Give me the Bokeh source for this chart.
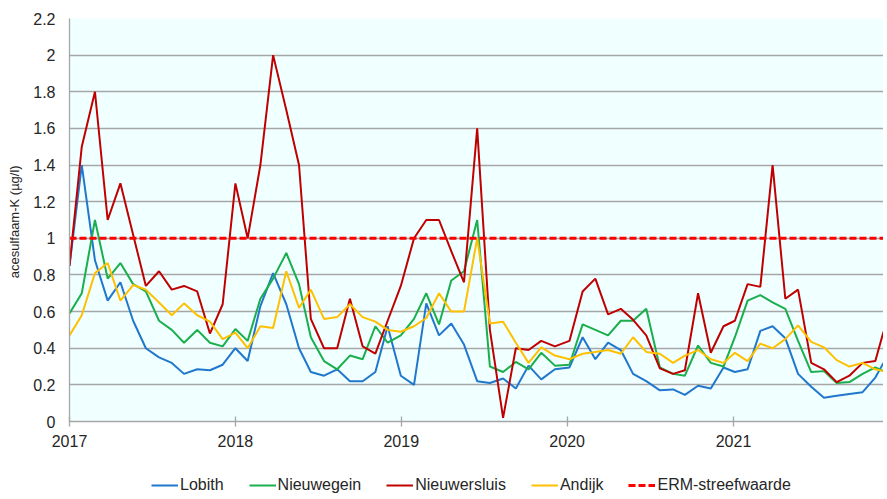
import pandas as pd
from bokeh.plotting import figure
from bokeh.layouts import column
from bokeh.models import (Legend, LegendItem, FixedTicker, NumeralTickFormatter,
                          DatetimeTickFormatter, Range1d)
from bokeh.embed import file_html
from bokeh.resources import INLINE

# ---- data ----
dates = [
    "2017-01-01", "2017-01-28", "2017-02-26", "2017-03-26", "2017-04-23", "2017-05-21", "2017-06-18",
    "2017-07-17", "2017-08-14", "2017-09-10", "2017-10-09", "2017-11-06", "2017-12-04",
    "2018-01-01", "2018-01-28", "2018-02-25", "2018-03-25", "2018-04-23", "2018-05-21", "2018-06-16",
    "2018-07-15", "2018-08-13", "2018-09-10", "2018-10-08", "2018-11-05", "2018-12-02",
    "2018-12-31", "2019-01-29", "2019-02-25", "2019-03-25", "2019-04-21", "2019-05-19", "2019-06-17",
    "2019-07-15", "2019-08-13", "2019-09-10", "2019-10-08", "2019-11-05", "2019-12-05",
    "2020-01-06", "2020-02-04", "2020-03-03", "2020-03-31", "2020-04-28", "2020-05-25", "2020-06-23",
    "2020-07-23", "2020-08-21", "2020-09-16", "2020-10-15", "2020-11-12", "2020-12-10",
    "2021-01-04", "2021-02-01", "2021-03-01", "2021-03-28", "2021-04-25", "2021-05-23", "2021-06-21",
    "2021-07-19", "2021-08-16", "2021-09-13", "2021-10-12", "2021-11-09", "2021-11-27",
]

lobith = [0.85, 1.40, 0.88, 0.66, 0.76, 0.55, 0.40, 0.35, 0.32, 0.26, 0.285, 0.28, 0.31,
          0.40, 0.33, 0.63, 0.81, 0.64, 0.40, 0.27, 0.25, 0.285, 0.22, 0.22, 0.27, 0.52,
          0.25, 0.20, 0.645, 0.47, 0.535, 0.42, 0.22, 0.21, 0.235, 0.18, 0.305, 0.23, 0.285,
          0.295, 0.46, 0.34, 0.43, 0.39, 0.26, 0.22, 0.17, 0.175, 0.145, 0.195, 0.18, 0.295,
          0.27, 0.285, 0.495, 0.52, 0.455, 0.26, 0.19, 0.13, 0.14, 0.15, 0.16, 0.24, 0.32]

nieuwegein = [0.59, 0.70, 1.10, 0.78, 0.865, 0.75, 0.71, 0.55, 0.50, 0.43, 0.50, 0.43, 0.41,
              0.505, 0.44, 0.67, 0.78, 0.92, 0.75, 0.46, 0.33, 0.285, 0.36, 0.34, 0.52, 0.43,
              0.47, 0.56, 0.70, 0.53, 0.77, 0.82, 1.10, 0.30, 0.27, 0.325, 0.285, 0.375, 0.305,
              0.31, 0.53, 0.50, 0.47, 0.55, 0.55, 0.615, 0.295, 0.26, 0.25, 0.415, 0.32, 0.30,
              0.46, 0.66, 0.69, 0.65, 0.615, 0.44, 0.27, 0.275, 0.21, 0.215, 0.26, 0.295, 0.275]

nieuwersluis = [0.85, 1.50, 1.80, 1.10, 1.30, 1.02, 0.74, 0.82, 0.72, 0.74, 0.71, 0.48, 0.64,
                1.30, 1.00, 1.40, 2.00, 1.70, 1.40, 0.56, 0.40, 0.40, 0.67, 0.41, 0.37, 0.55,
                0.74, 1.00, 1.10, 1.10, 0.93, 0.76, 1.60, 0.50, 0.02, 0.40, 0.39, 0.44, 0.41,
                0.44, 0.71, 0.78, 0.585, 0.615, 0.555, 0.47, 0.29, 0.26, 0.28, 0.70, 0.375, 0.52,
                0.55, 0.75, 0.735, 1.40, 0.67, 0.72, 0.32, 0.285, 0.215, 0.25, 0.32, 0.33, 0.49]

andijk = [0.47, 0.58, 0.81, 0.865, 0.66, 0.745, 0.72, 0.65, 0.58, 0.645, 0.58, 0.545, 0.45,
          0.485, 0.40, 0.52, 0.51, 0.82, 0.62, 0.72, 0.56, 0.57, 0.64, 0.57, 0.545, 0.50,
          0.49, 0.52, 0.565, 0.70, 0.60, 0.60, 1.00, 0.535, 0.545, 0.43, 0.32, 0.405, 0.36,
          0.34, 0.37, 0.38, 0.39, 0.37, 0.46, 0.38, 0.37, 0.32, 0.36, 0.39, 0.34, 0.32,
          0.375, 0.33, 0.425, 0.40, 0.45, 0.525, 0.435, 0.405, 0.335, 0.30, 0.32, 0.285, 0.275]

erm_value = 1.0
series_names = ["Lobith", "Nieuwegein", "Nieuwersluis", "Andijk"]
erm_name = "ERM-streefwaarde"
year_ticks = [2017, 2018, 2019, 2020, 2021]
y_ticks = [0, 0.2, 0.4, 0.6, 0.8, 1.0, 1.2, 1.4, 1.6, 1.8, 2.0, 2.2]
y_label = "acesulfaam-K  (\u00b5g/l)"

# ---- styling ----
colors = ["#2177CC", "#1BAE4C", "#C00000", "#FFC000"]
ERM_COLOR = "#FF0000"
ERM_DASH = "7 3"
FONT = "Liberation Sans"
TXT = "#262626"
GRID = "#A6A6A6"

x = pd.to_datetime(dates)
x_start = pd.Timestamp("2017-01-01")
x_end = x[-1]
all_series = [lobith, nieuwegein, nieuwersluis, andijk]

p = figure(width=883, height=455, x_axis_type="datetime",
           output_backend="svg", toolbar_location=None,
           x_range=Range1d(x_start, x_end), y_range=Range1d(0, 2.2),
           min_border_left=69, min_border_top=18, min_border_bottom=34, min_border_right=0)

p.background_fill_color = "#F0FFFF"
p.border_fill_color = "white"
p.outline_line_color = None

p.xgrid.grid_line_color = None
p.ygrid.grid_line_color = GRID
p.ygrid.grid_line_width = 1.3
p.ygrid.ticker = FixedTicker(ticks=y_ticks)

# y axis
p.yaxis.ticker = FixedTicker(ticks=y_ticks)
p.yaxis.formatter = NumeralTickFormatter(format="0.[0]")
p.yaxis.axis_label = y_label
p.yaxis.axis_label_text_font = FONT
p.yaxis.axis_label_text_font_size = "13px"
p.yaxis.axis_label_text_font_style = "normal"
p.yaxis.axis_label_text_color = TXT
p.yaxis.axis_label_standoff = 8
p.yaxis.major_label_text_font = FONT
p.yaxis.major_label_text_font_size = "16px"
p.yaxis.major_label_text_color = TXT
p.yaxis.major_label_standoff = 14
p.yaxis.major_tick_out = 0
p.yaxis.major_tick_in = 0
p.yaxis.minor_tick_line_color = None
p.yaxis.axis_line_color = GRID
p.yaxis.axis_line_width = 1.3

# x axis
year_ms = [pd.Timestamp(f"{yr}-01-01").value // 10**6 for yr in year_ticks]
p.xaxis.ticker = FixedTicker(ticks=year_ms)
p.xaxis.formatter = DatetimeTickFormatter(years="%Y", months="%Y", days="%Y",
                                          hours="%Y", minutes="%Y", seconds="%Y")
p.xaxis.major_label_text_font = FONT
p.xaxis.major_label_text_font_size = "16px"
p.xaxis.major_label_text_color = TXT
p.xaxis.major_label_standoff = 8
p.xaxis.major_tick_in = 5
p.xaxis.major_tick_out = 5
p.xaxis.major_tick_line_color = GRID
p.xaxis.major_tick_line_width = 1.3
p.xaxis.minor_tick_line_color = None
p.xaxis.axis_line_color = GRID
p.xaxis.axis_line_width = 1.3

for vals, col in zip(all_series, colors):
    p.line(x, vals, line_color=col, line_width=2)

p.line([x_start, x_end], [erm_value, erm_value], line_color=ERM_COLOR,
       line_width=3, line_dash=ERM_DASH)

# ---- legend strip below the chart (its own ranges keep the data out of view) ----
lg = figure(width=883, height=40, output_backend="svg", toolbar_location=None,
            x_range=Range1d(0, 1), y_range=Range1d(0, 1),
            x_axis_location=None, y_axis_location=None,
            min_border_left=0, min_border_right=0, min_border_top=0, min_border_bottom=0)
lg.xgrid.grid_line_color = None
lg.ygrid.grid_line_color = None
lg.outline_line_color = None
lg.background_fill_color = "white"

items = []
for name, vals, col in zip(series_names, all_series, colors):
    r = lg.line(x, vals, line_color=col, line_width=2)
    items.append(LegendItem(label=name, renderers=[r]))
r_erm = lg.line([x_start, x_end], [erm_value, erm_value], line_color=ERM_COLOR,
                line_width=3, line_dash=ERM_DASH)
items.append(LegendItem(label=erm_name, renderers=[r_erm]))

legend = Legend(items=items, orientation="horizontal", location=(82, 0),
                glyph_width=27, glyph_height=20, label_height=20,
                label_standoff=2, spacing=25, padding=0, margin=0,
                border_line_color=None, background_fill_alpha=0,
                label_text_font=FONT, label_text_font_size="16px",
                label_text_color=TXT)
lg.add_layout(legend)

layout = column(p, lg, spacing=0)
open("out.html", "w").write(file_html(layout, INLINE))
